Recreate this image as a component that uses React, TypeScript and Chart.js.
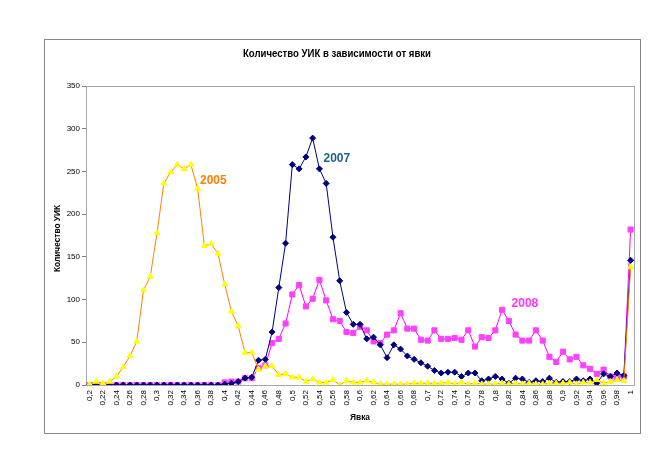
import React, { useEffect, useRef } from 'react';
import { Chart, registerables } from 'chart.js';

Chart.register(...registerables);

const categories = [
  '0,2', '0,21', '0,22', '0,23', '0,24', '0,25', '0,26', '0,27', '0,28', '0,29',
  '0,3', '0,31', '0,32', '0,33', '0,34', '0,35', '0,36', '0,37', '0,38', '0,39',
  '0,4', '0,41', '0,42', '0,43', '0,44', '0,45', '0,46', '0,47', '0,48', '0,49',
  '0,5', '0,51', '0,52', '0,53', '0,54', '0,55', '0,56', '0,57', '0,58', '0,59',
  '0,6', '0,61', '0,62', '0,63', '0,64', '0,65', '0,66', '0,67', '0,68', '0,69',
  '0,7', '0,71', '0,72', '0,73', '0,74', '0,75', '0,76', '0,77', '0,78', '0,79',
  '0,8', '0,81', '0,82', '0,83', '0,84', '0,85', '0,86', '0,87', '0,88', '0,89',
  '0,9', '0,91', '0,92', '0,93', '0,94', '0,95', '0,96', '0,97', '0,98', '0,99',
  '1',
];

const values2005 = [
  1, 4, 2, 4, 10, 21, 34, 51, 111, 127,
  178, 236, 249, 258, 253, 258, 230, 163, 165, 154,
  118, 86, 69, 38, 38, 18, 22, 22, 12, 13,
  9, 9, 4, 7, 3, 3, 6, 0, 5, 3,
  3, 5, 3, 1, 1, 1, 1, 1, 2, 2,
  2, 2, 2, 3, 1, 3, 1, 2, 1, 1,
  1, 2, 1, 2, 1, 2, 1, 1, 2, 2,
  2, 3, 1, 3, 3, 6, 2, 4, 6, 5,
  138,
];

const values2007 = [
  0, 0, 0, 0, 0, 0, 0, 0, 0, 0,
  0, 0, 0, 0, 0, 0, 0, 0, 0, 0,
  1, 2, 4, 8, 9, 29, 30, 62, 114, 166,
  258, 253, 267, 289, 253, 236, 173, 122, 85, 71,
  71, 54, 56, 47, 32, 47, 42, 34, 30, 26,
  22, 17, 14, 15, 15, 10, 14, 14, 5, 7,
  10, 7, 2, 8, 7, 3, 5, 4, 8, 3,
  4, 4, 7, 5, 7, 2, 13, 10, 14, 11,
  146,
];

const values2008 = [
  0, 0, 0, 0, 0, 0, 0, 0, 0, 0,
  0, 0, 0, 0, 0, 0, 0, 0, 0, 0,
  3, 4, 4, 8, 8, 20, 23, 49, 54, 72,
  106, 117, 92, 101, 123, 99, 77, 75, 62, 61,
  68, 64, 51, 49, 59, 64, 84, 66, 66, 53,
  52, 64, 54, 54, 55, 53, 64, 45, 56, 55,
  64, 88, 75, 59, 52, 52, 64, 52, 33, 27,
  39, 30, 33, 23, 19, 13, 18, 10, 9, 10,
  182,
];

const seriesNames = ['2005', '2007', '2008'];
const chartTitle = 'Количество УИК в зависимости от явки';
const xAxisTitle = 'Явка';
const yAxisTitle = 'Количество УИК';
const yMin = 0;
const yMax = 350;
const yStep = 50;

const FONT = '"Liberation Sans", Arial, sans-serif';

const decoPlugin = {
  id: 'deco',
  beforeDatasetsDraw(chart: any) {
    const { ctx, chartArea: a } = chart;
    ctx.save();
    ctx.strokeStyle = '#a6a6a6';
    ctx.lineWidth = 1;
    ctx.strokeRect(Math.round(a.left) + 0.5, Math.round(a.top) + 0.5, Math.round(a.right - a.left), Math.round(a.bottom - a.top));
    ctx.restore();
  },
  afterDraw(chart: any) {
    const { ctx, chartArea: a, scales } = chart;
    const x = scales.x;
    const y = scales.y;
    ctx.save();
    // outer frame
    ctx.strokeStyle = '#868686';
    ctx.lineWidth = 1;
    ctx.strokeRect(44.5, 39.5, 596, 394);

    ctx.fillStyle = '#000';
    ctx.textBaseline = 'middle';
    ctx.textAlign = 'center';
    // title
    ctx.font = `bold 10px ${FONT}`;
    ctx.fillText(chartTitle, 337, 54, 188);
    // x title
    ctx.font = `bold 9px ${FONT}`;
    ctx.fillText(xAxisTitle, (a.left + a.right) / 2, 418, 20);
    // y title
    ctx.save();
    ctx.translate(58, (a.top + a.bottom) / 2 + 3);
    ctx.rotate(-Math.PI / 2);
    ctx.font = `bold 9px ${FONT}`;
    ctx.fillText(yAxisTitle, 0, 0, 67);
    ctx.restore();

    // series annotations
    ctx.textAlign = 'left';
    ctx.font = `bold 12px ${FONT}`;
    const notes = [
      { text: seriesNames[0], color: '#ff8000', idx: 16.35, val: 239 },
      { text: seriesNames[1], color: '#1f5f8f', idx: 34.6, val: 265 },
      { text: seriesNames[2], color: '#ff33ff', idx: 62.4, val: 95 },
    ];
    notes.forEach((n) => {
      ctx.fillStyle = n.color;
      ctx.fillText(n.text, x.getPixelForValue(n.idx), y.getPixelForValue(n.val));
    });
    ctx.restore();
  },
};

export default function App() {
  const ref = useRef<HTMLCanvasElement | null>(null);

  useEffect(() => {
    if (!ref.current) return;
    const chart = new Chart(ref.current, {
      type: 'line',
      data: {
        labels: categories,
        datasets: [
          {
            label: seriesNames[0],
            data: values2005,
            borderColor: '#ff8000',
            borderWidth: 1,
            pointStyle: 'triangle',
            pointRadius: 3.3,
            pointBackgroundColor: '#ffff00',
            pointBorderColor: '#ffff00',
            pointBorderWidth: 1,
            fill: false,
            tension: 0,
          },
          {
            label: seriesNames[1],
            data: values2007,
            borderColor: '#000080',
            borderWidth: 1,
            pointStyle: 'rectRot',
            pointRadius: 3,
            pointBackgroundColor: '#000080',
            pointBorderColor: '#000080',
            pointBorderWidth: 1,
            fill: false,
            tension: 0,
          },
          {
            label: seriesNames[2],
            data: values2008,
            borderColor: '#ff00ff',
            borderWidth: 1,
            pointStyle: 'rect',
            pointRadius: 3.6,
            pointBackgroundColor: '#ff40ff',
            pointBorderColor: '#ff40ff',
            pointBorderWidth: 1,
            fill: false,
            tension: 0,
          },
        ],
      },
      options: {
        responsive: false,
        animation: false,
        devicePixelRatio: 1,
        layout: { padding: { left: 0, right: 30, top: 86, bottom: 0 } },
        plugins: {
          legend: { display: false },
          title: { display: false },
          tooltip: { enabled: false },
        },
        scales: {
          x: {
            type: 'category',
            offset: true,
            grid: { drawOnChartArea: false, drawTicks: true, tickLength: 3, tickColor: 'rgba(0,0,0,0)' },
            border: { display: true, color: '#808080', width: 1 },
            ticks: {
              autoSkip: false,
              minRotation: 90,
              maxRotation: 90,
              padding: 2,
              color: '#000',
              font: { family: FONT, size: 8 },
              callback: (_v: any, i: number) => (i % 2 === 0 ? categories[i] : ''),
            },
            afterFit: (s: any) => {
              s.height = 85;
            },
          },
          y: {
            min: yMin,
            max: yMax,
            grid: { drawOnChartArea: false, drawTicks: true, tickLength: 4, tickColor: '#808080' },
            border: { display: true, color: '#808080', width: 1 },
            ticks: {
              stepSize: yStep,
              padding: 2,
              color: '#000',
              font: { family: FONT, size: 8 },
            },
            afterFit: (s: any) => {
              s.width = 86;
            },
          },
        },
      },
      plugins: [decoPlugin],
    });
    return () => chart.destroy();
  }, []);

  return (
    <div style={{ position: 'fixed', left: 0, top: 0, width: 664, height: 470, background: '#fff' }}>
      <canvas ref={ref} width={664} height={470} style={{ display: 'block' }} />
    </div>
  );
}
